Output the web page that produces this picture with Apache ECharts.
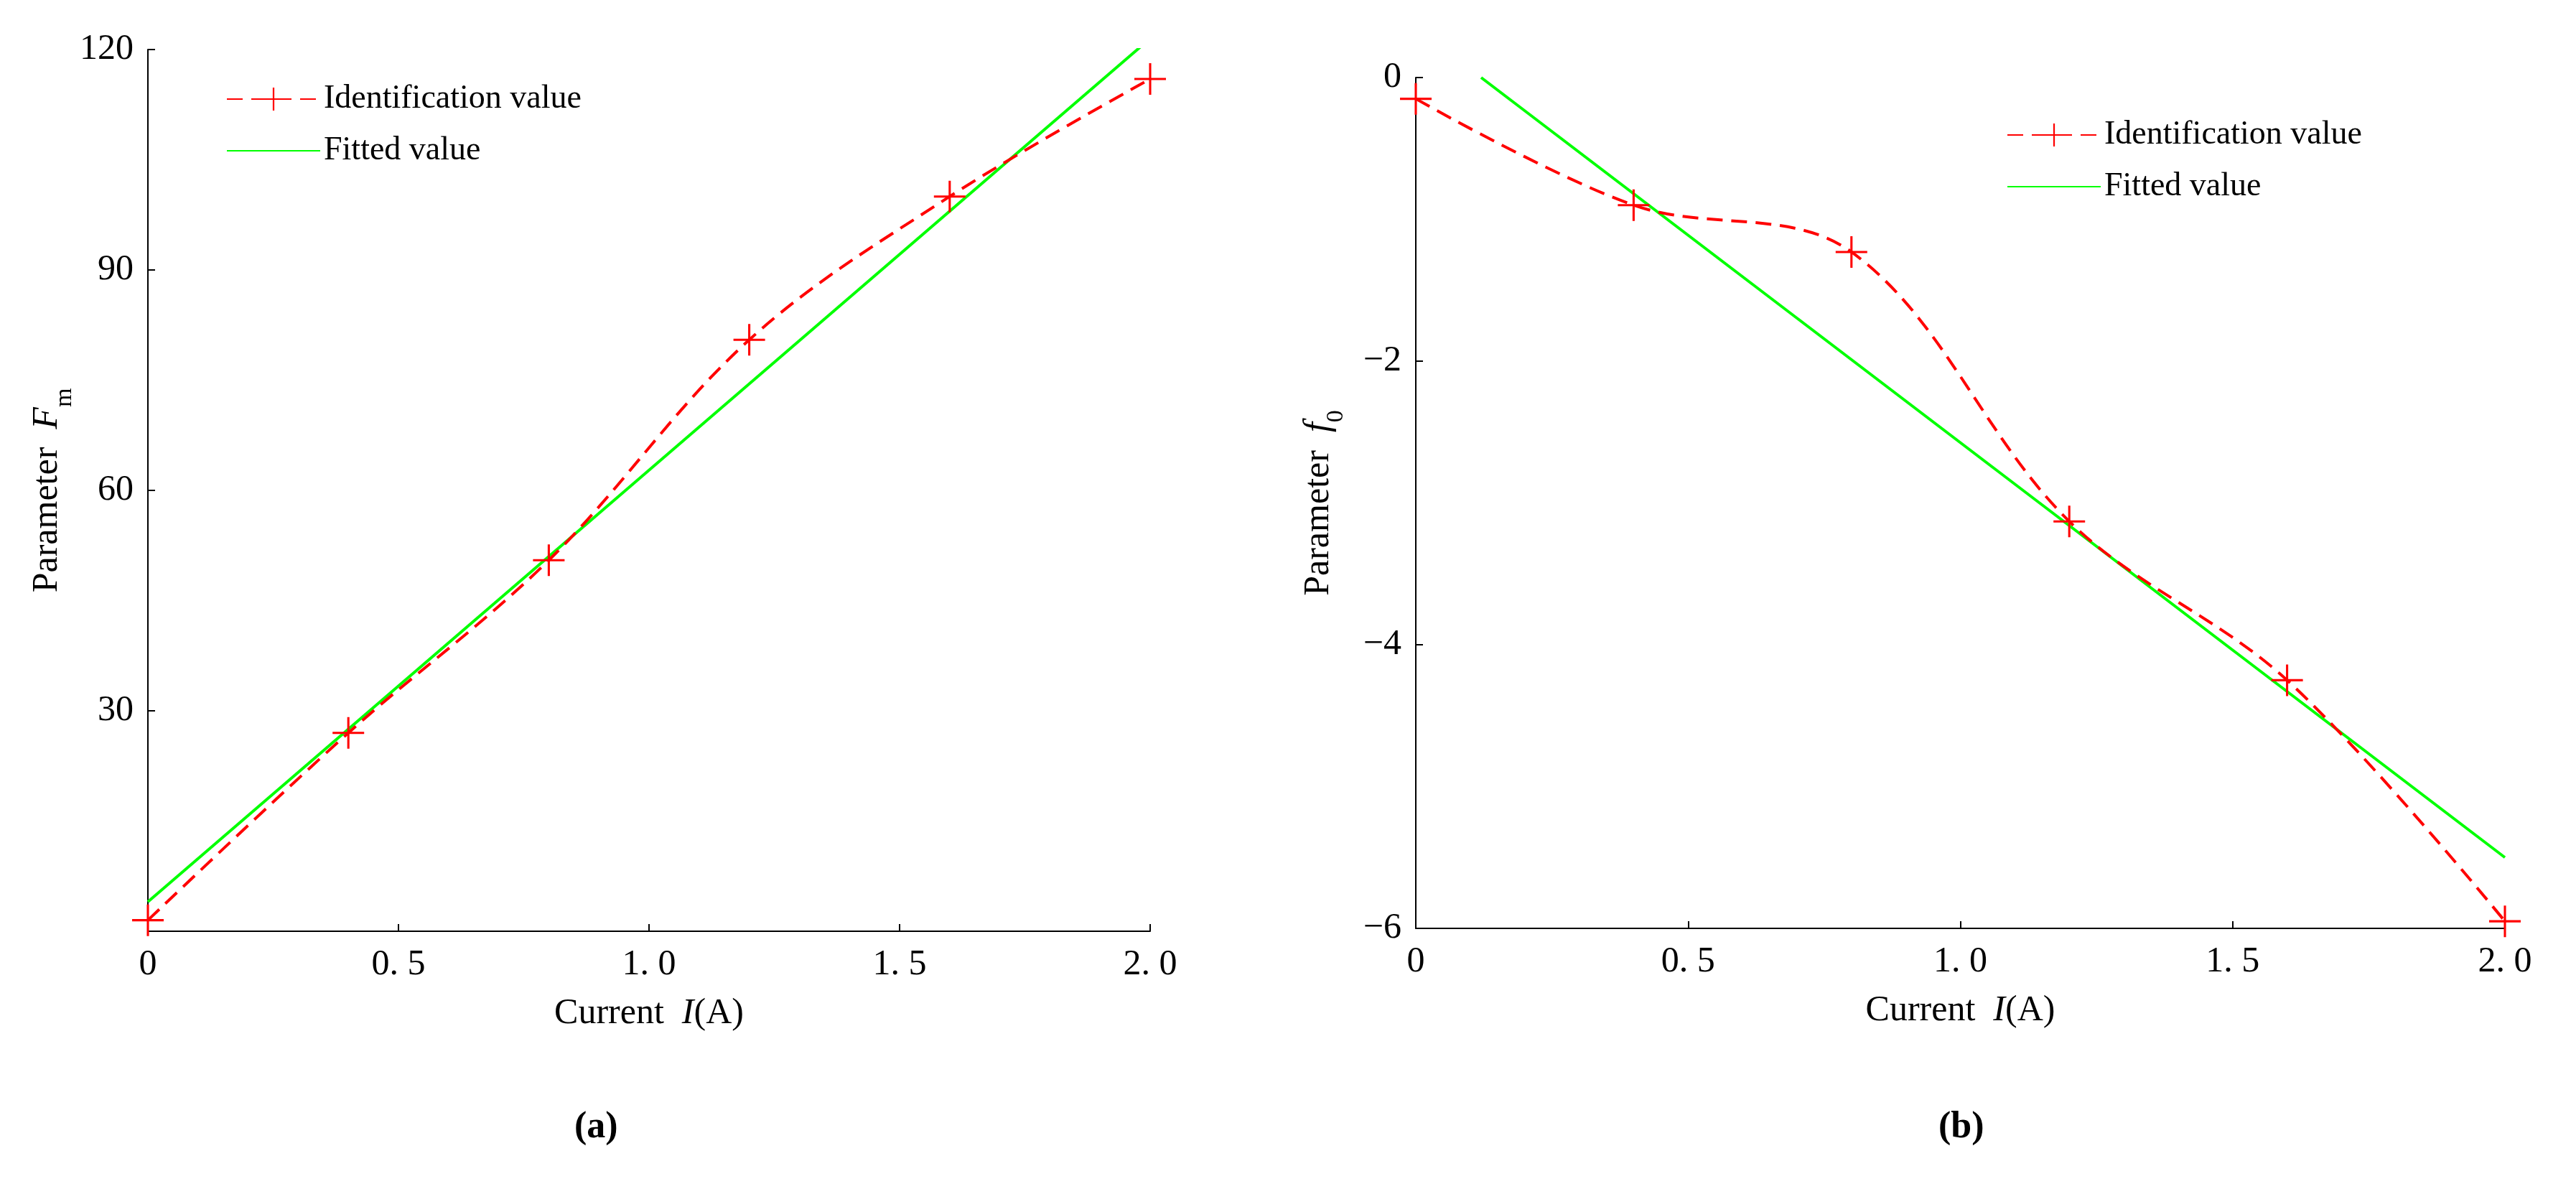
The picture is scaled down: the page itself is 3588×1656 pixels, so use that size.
<!DOCTYPE html>
<html><head><meta charset="utf-8">
<script src="https://cdn.jsdelivr.net/npm/echarts@6/dist/echarts.min.js"></script>
<style>html,body{margin:0;padding:0;background:#fff}#c{width:3588px;height:1656px}</style>
</head><body><div id="c"></div>
<script>
const xTicks = [0, 0.5, 1.0, 1.5, 2.0];
const currentA = [0, 0.4, 0.8, 1.2, 1.6, 2.0];
const identFm = [1.5, 27, 50.5, 80.5, 100, 116];
const fitFmX = [0, 2.0];
const fitFm = [4, 121.5];
const identF0 = [-0.15, -0.9, -1.23, -3.13, -4.25, -5.95];
const fitF0X = [0.12, 2.0];
const fitF0 = [0, -5.5];

const F = 'Liberation Serif, Times New Roman, serif';
const plus = 'path://M-0.07,-1L0.07,-1L0.07,-0.07L1,-0.07L1,0.07L0.07,0.07L0.07,1L-0.07,1L-0.07,0.07L-1,0.07L-1,-0.07L-0.07,-0.07Z';
const zip = (a, b) => a.map((v, i) => [v, b[i]]);

function xAxis(gi) {
  return {gridIndex: gi, type: 'value', min: 0, max: 2, interval: 0.5,
    axisLine: {onZero: false, lineStyle: {color: '#000', width: 2}},
    axisTick: {inside: true, length: 10, lineStyle: {color: '#000', width: 2}},
    splitLine: {show: false},
    axisLabel: {color: '#000', fontFamily: F, fontSize: 50, margin: 22,
      formatter: v => v === 0 ? '0' : v.toFixed(1).replace('.', '. ')},
    name: '{n|Current  }{i|I}{n|(A)}', nameLocation: 'middle', nameGap: 90,
    nameTextStyle: {rich: {n: {fontFamily: F, fontSize: 50, color: '#000'}, i: {fontFamily: F, fontSize: 50, fontStyle: 'italic', color: '#000'}}}};
}
function yAxis(gi, min, max, interval, name, fmt) {
  return {gridIndex: gi, type: 'value', min, max, interval,
    axisLine: {show: true, onZero: false, lineStyle: {color: '#000', width: 2}},
    axisTick: {show: true, inside: true, length: 10, lineStyle: {color: '#000', width: 2}},
    splitLine: {show: false},
    axisLabel: {color: '#000', fontFamily: F, fontSize: 50, margin: 20, formatter: fmt},
    name, nameLocation: 'middle', nameGap: 110,
    nameTextStyle: {rich: {n: {fontFamily: F, fontSize: 50, color: '#000'}, i: {fontFamily: F, fontSize: 50, fontStyle: 'italic', color: '#000'}, s: {fontFamily: F, fontSize: 34, color: '#000', verticalAlign: 'bottom', padding: [0,0,-16,0]}}}};
}
const identStyle = {type: 'line', smooth: 0.35, symbol: plus, symbolSize: 44,
  itemStyle: {color: '#ff0000'}, lineStyle: {color: '#ff0000', width: 4, type: [22, 12]}, z: 3};
const fitStyle = {type: 'line', symbol: 'none', lineStyle: {color: '#00ff00', width: 4}, itemStyle: {color: '#00ff00'}, z: 2};

const legText = {fontFamily: F, fontSize: 46, color: '#000'};
const chart = echarts.init(document.getElementById('c'));
chart.setOption({
  animation: false,
  grid: [
    {left: 206, top: 69, width: 1396, height: 1228},
    {left: 1972, top: 108, width: 1517, height: 1185}
  ],
  xAxis: [xAxis(0), xAxis(1)],
  yAxis: [
    yAxis(0, 0, 120, 30, '{n|Parameter  }{i|F}{s|m}', v => v === 0 ? '' : v),
    yAxis(1, -6, 0, 2, '{n|Parameter  }{i|f}{s|0}', v => v < 0 ? '\u2212' + (-v) : v)
  ],
  legend: [
    {left: 310, top: 110, orient: 'vertical', itemGap: 26, itemWidth: 130, itemHeight: 40,
      textStyle: legText,
      data: ['Identification value', {name: 'Fitted value', itemStyle: {opacity: 0}}]},
    {left: 2790, top: 160, orient: 'vertical', itemGap: 26, itemWidth: 130, itemHeight: 40,
      textStyle: legText,
      data: ['Identification value ', {name: 'Fitted value ', itemStyle: {opacity: 0}}]}
  ],
  graphic: [
    {type: 'text', left: 800, top: 1545, style: {text: '(a)', font: 'bold 52px ' + F, fill: '#000'}},
    {type: 'text', left: 2700, top: 1545, style: {text: '(b)', font: 'bold 52px ' + F, fill: '#000'}}
  ],
  series: [
    Object.assign({name: 'Identification value', xAxisIndex: 0, yAxisIndex: 0, data: zip(currentA, identFm)}, identStyle),
    Object.assign({name: 'Fitted value', xAxisIndex: 0, yAxisIndex: 0, data: zip(fitFmX, fitFm)}, fitStyle),
    Object.assign({name: 'Identification value ', xAxisIndex: 1, yAxisIndex: 1, data: zip(currentA, identF0)}, identStyle),
    Object.assign({name: 'Fitted value ', xAxisIndex: 1, yAxisIndex: 1, data: zip(fitF0X, fitF0)}, fitStyle)
  ]
});
</script></body></html>
